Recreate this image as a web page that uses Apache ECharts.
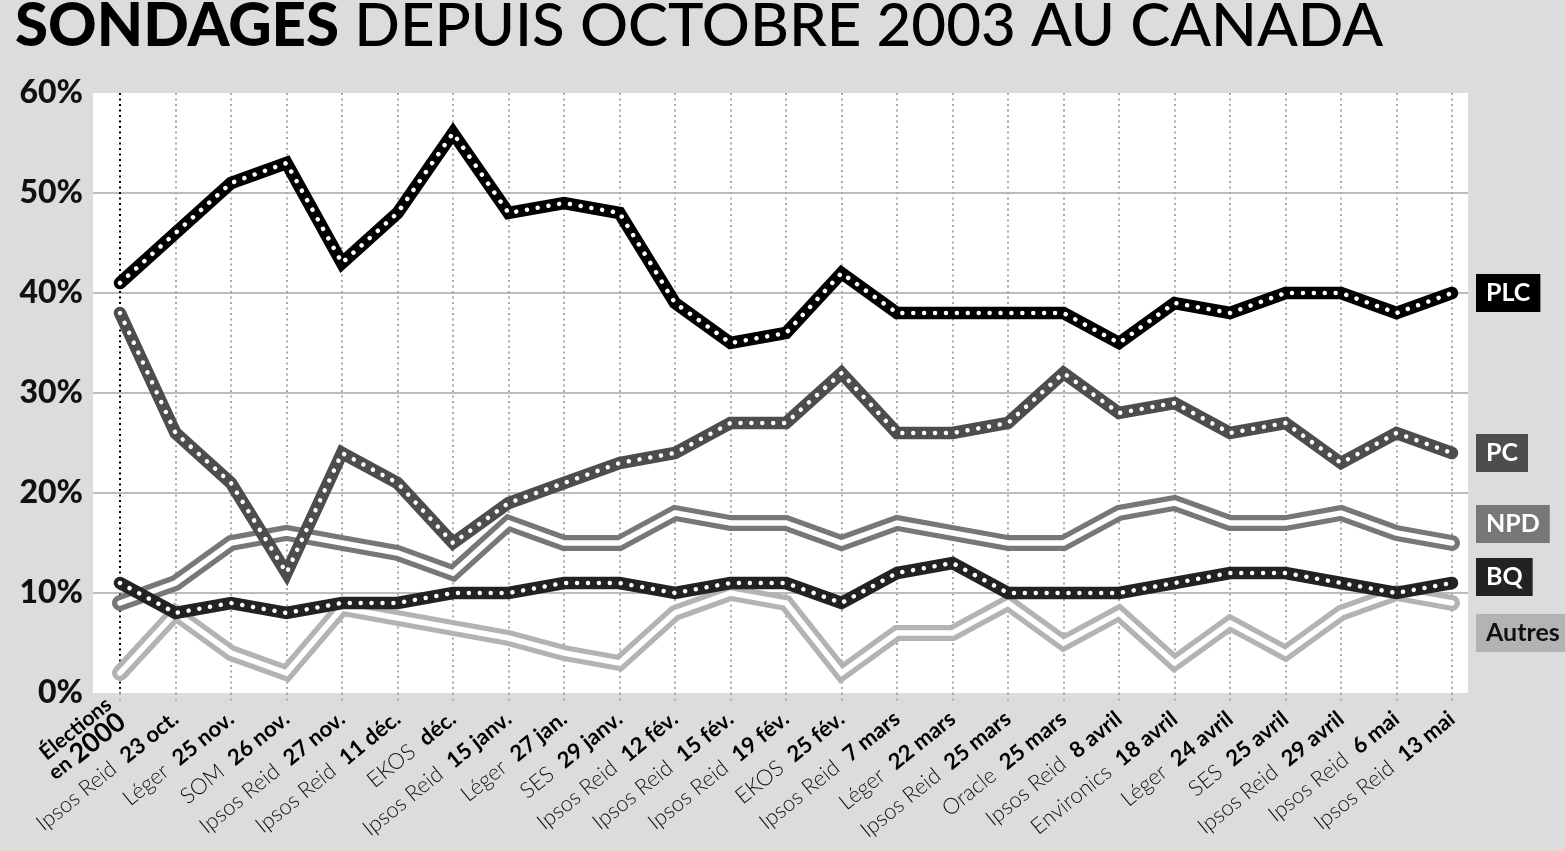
<!DOCTYPE html>
<html>
<head>
<meta charset="utf-8">
<script src="https://cdn.jsdelivr.net/npm/echarts@6/dist/echarts.min.js"></script>
<style>
html,body{margin:0;padding:0;background:#dcdcdc;}
#chart{width:1565px;height:851px;}
</style>
</head>
<body>
<div id="chart"></div>
<script>
// ---- data ----
const pollsters = ["", "Ipsos Reid", "Léger", "SOM", "Ipsos Reid", "Ipsos Reid", "EKOS", "Ipsos Reid", "Léger", "SES",
  "Ipsos Reid", "Ipsos Reid", "Ipsos Reid", "EKOS", "Ipsos Reid", "Léger", "Ipsos Reid", "Oracle", "Ipsos Reid",
  "Environics", "Léger", "SES", "Ipsos Reid", "Ipsos Reid", "Ipsos Reid"];
const dates = ["en 2000", "23 oct.", "25 nov.", "26 nov.", "27 nov.", "11 déc.", "déc.", "15 janv.", "27 jan.", "29 janv.",
  "12 fév.", "15 fév.", "19 fév.", "25 fév.", "7 mars", "22 mars", "25 mars", "25 mars", "8 avril",
  "18 avril", "24 avril", "25 avril", "29 avril", "6 mai", "13 mai"];
const categories = pollsters.map((p, i) => (i === 0 ? "Élections" : p) + " " + dates[i]);

const plc    = [41, 46, 51, 53, 43, 48, 56, 48, 49, 48, 39, 35, 36, 42, 38, 38, 38, 38, 35, 39, 38, 40, 40, 38, 40];
const pc     = [38, 26, 21, 12, 24, 21, 15, 19, 21, 23, 24, 27, 27, 32, 26, 26, 27, 32, 28, 29, 26, 27, 23, 26, 24];
const npd    = [9, 11, 15, 16, 15, 14, 12, 17, 15, 15, 18, 17, 17, 15, 17, 16, 15, 15, 18, 19, 17, 17, 18, 16, 15];
const bq     = [11, 8, 9, 8, 9, 9, 10, 10, 11, 11, 10, 11, 11, 9, 12, 13, 10, 10, 10, 11, 12, 12, 11, 10, 11];
const autres = [2, 8, 4, 2, 8.5, 7.5, 6.5, 5.5, 4, 3, 8, 10, 9, 2, 6, 6, 9, 5, 8, 3, 7, 4, 8, 10, 9];

const yTicks = [0, 10, 20, 30, 40, 50, 60];

// ---- chart ----
const FONT = 'Lato';
const chart = echarts.init(document.getElementById('chart'), null, {renderer: 'canvas'});

function baseSeries(name, data, color, width, label) {
  return {
    name: name, type: 'line', data: data, xAxisIndex: 1, yAxisIndex: 1,
    showSymbol: false, symbol: 'none', silent: true,
    lineStyle: {color: color, width: width, cap: 'round', join: 'miter'},
    endLabel: Object.assign({
      show: true, formatter: '{a}', fontFamily: FONT, fontSize: 25, fontWeight: 700,
      color: '#fff', backgroundColor: color, padding: [7, 10, 6, 10], distance: 24
    }, label || {})
  };
}
function overlaySeries(name, data, dotted, width) {
  return {
    name: name + '_o', type: 'line', data: data, xAxisIndex: 1, yAxisIndex: 1,
    showSymbol: false, symbol: 'none', silent: true,
    lineStyle: {color: '#ffffff', width: width, cap: 'round', join: 'miter', type: dotted ? [0.01, 10.9] : 'solid'}
  };
}

const splitColors = categories.map((c, i) => i === 0 ? '#000000' : '#aaaaaa');

const option = {
  backgroundColor: '#dcdcdc',
  animation: false,
  title: {
    left: 10, top: -11,
    text: '{a|SONDAGES}{b| DEPUIS OCTOBRE 2003 AU CANADA}',
    textStyle: {
      rich: {
        a: {fontFamily: FONT, fontWeight: 900, fontSize: 60, color: '#000', lineHeight: 66},
        b: {fontFamily: FONT, fontWeight: 500, fontSize: 60, color: '#000', lineHeight: 66}
      }
    }
  },
  grid: [
    {left: 93, right: 97, top: 93, bottom: 158, show: true, backgroundColor: '#ffffff', borderWidth: 0},
    {left: 120, right: 113, top: 93, bottom: 158}
  ],
  xAxis: [
    {type: 'value', gridIndex: 0, show: false, min: 0, max: 1},
    {
      type: 'category', gridIndex: 1, data: categories, boundaryGap: false,
      axisLine: {show: false},
      axisTick: {show: true, length: 8, lineStyle: {color: '#aaaaaa', width: 2, type: [2, 3.5]}},
      splitLine: {show: true, lineStyle: {color: splitColors, width: 2, type: [2, 3.5]}},
      axisLabel: {
        interval: 0, rotate: 39, margin: 23, color: '#111', verticalAlign: 'middle', align: 'right',
        formatter: function (v, i) {
          if (i === 0) return '{e|Élections}\n{e|en }{y|2000}\n{s| }';
          return '{p|' + pollsters[i] + '  }{d|' + dates[i] + '}';
        },
        rich: {
          s: {fontSize: 2, lineHeight: 14},
          p: {fontFamily: FONT, fontWeight: 300, fontSize: 22, color: '#111', lineHeight: 26},
          d: {fontFamily: FONT, fontWeight: 700, fontSize: 22, color: '#000', lineHeight: 26},
          e: {fontFamily: FONT, fontWeight: 700, fontSize: 21, color: '#000', lineHeight: 20},
          y: {fontFamily: FONT, fontWeight: 700, fontSize: 27, color: '#000', lineHeight: 22}
        }
      }
    }
  ],
  yAxis: [
    {
      type: 'value', gridIndex: 0, min: yTicks[0], max: yTicks[yTicks.length - 1], interval: 10,
      axisLine: {show: false}, axisTick: {show: false},
      splitLine: {show: true, showMinLine: false, showMaxLine: false, lineStyle: {color: '#bcbcbc', width: 2}},
      axisLabel: {formatter: '{value}%', fontFamily: FONT, fontWeight: 900, fontSize: 32, color: '#111', margin: 10}
    },
    {type: 'value', gridIndex: 1, min: 0, max: 60, show: false, splitLine: {show: false}}
  ],
  series: [
    baseSeries('Autres', autres, '#b3b3b3', 16, {color: '#111', offset: [0, 30]}),
    overlaySeries('Autres', autres, false, 5.5),
    baseSeries('NPD', npd, '#777777', 16, {offset: [0, -19]}),
    overlaySeries('NPD', npd, false, 5.5),
    baseSeries('BQ', bq, '#222222', 12.5, {offset: [0, -6]}),
    overlaySeries('BQ', bq, true, 4.5),
    baseSeries('PC', pc, '#4d4d4d', 12.5),
    overlaySeries('PC', pc, true, 4.5),
    baseSeries('PLC', plc, '#000000', 12.5),
    overlaySeries('PLC', plc, true, 4.5)
  ]
};
chart.setOption(option);
</script>
</body>
</html>
